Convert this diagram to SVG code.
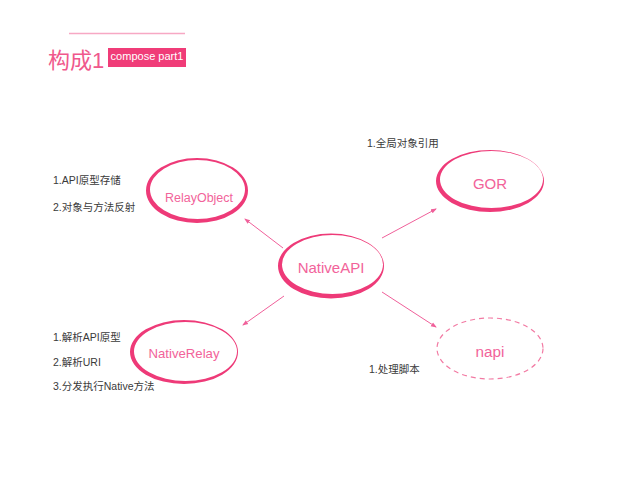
<svg xmlns="http://www.w3.org/2000/svg" width="640" height="480" viewBox="0 0 640 480">
<defs>
<style>
.ring{fill:#ee3a78;fill-rule:evenodd;}
.dash{fill:none;stroke:#f27aa3;stroke-width:1.2;stroke-dasharray:5,4;}
.nt{font-family:"Liberation Sans",Arial,sans-serif;fill:#f2639a;text-anchor:middle;}
.lb{font-family:"Liberation Sans","Noto Sans CJK SC",sans-serif;font-size:10.5px;fill:#3a3a3a;}
.con{stroke:#f0609a;stroke-width:1;fill:none;marker-end:url(#ah);}
</style>
<marker id="ah" viewBox="0 0 6 6" refX="5" refY="3" markerWidth="6" markerHeight="6" markerUnits="userSpaceOnUse" orient="auto">
<path d="M0,0.8 L6,3 L0,5.2 Z" fill="#f0609a"/>
</marker>
</defs>
<rect width="640" height="480" fill="#fff"/>
<g id="title">
<line x1="69" y1="33.5" x2="185" y2="33.5" stroke="#f7a8c4" stroke-width="1.5"/>
<text x="48" y="68" font-family="Liberation Sans,'Noto Sans CJK SC',sans-serif" font-size="22" fill="#f0588c">构成1</text>
<rect x="108" y="48" width="78" height="19" fill="#f03c78"/>
<text x="147" y="60" font-family="Liberation Sans,Arial,sans-serif" font-size="11" fill="#fff" text-anchor="middle">compose part1</text>
</g>
<g id="connectors">
<line class="con" x1="283" y1="248" x2="245" y2="219"/>
<line class="con" x1="382" y1="238" x2="436" y2="209"/>
<line class="con" x1="284" y1="296" x2="243" y2="325"/>
<line class="con" x1="382" y1="292" x2="436" y2="327"/>
</g>
<g id="RelayObject">
<path class="ring" d="M146,190.5 a51,32.5 0 1,0 102,0 a51,32.5 0 1,0 -102,0 Z M150,189.5 a47.5,29.5 0 1,0 95,0 a47.5,29.5 0 1,0 -95,0 Z"/>
<text class="nt" x="199" y="202" font-size="12.5">RelayObject</text>
<text class="lb" x="53" y="184">1.API原型存储</text>
<text class="lb" x="53" y="211">2.对象与方法反射</text>
</g>
<g id="NativeAPI">
<path class="ring" d="M278,266 a53,32.5 0 1,0 106,0 a53,32.5 0 1,0 -106,0 Z M282,264.5 a50.5,29.5 0 1,0 101,0 a50.5,29.5 0 1,0 -101,0 Z"/>
<text class="nt" x="331" y="273" font-size="15">NativeAPI</text>
</g>
<g id="GOR">
<path class="ring" d="M436,181 a54,31 0 1,0 108,0 a54,31 0 1,0 -108,0 Z M440,179.5 a51.5,28.5 0 1,0 103,0 a51.5,28.5 0 1,0 -103,0 Z"/>
<text class="nt" x="490" y="189" font-size="15">GOR</text>
<text class="lb" x="367" y="147">1.全局对象引用</text>
</g>
<g id="NativeRelay">
<path class="ring" d="M130,352 a54,32 0 1,0 108,0 a54,32 0 1,0 -108,0 Z M134,351.5 a51.5,29.5 0 1,0 103,0 a51.5,29.5 0 1,0 -103,0 Z"/>
<text class="nt" x="184" y="358" font-size="13.2">NativeRelay</text>
<text class="lb" x="53" y="341">1.解析API原型</text>
<text class="lb" x="53" y="366">2.解析URI</text>
<text class="lb" x="53" y="390">3.分发执行Native方法</text>
</g>
<g id="napi">
<ellipse class="dash" cx="490" cy="348.5" rx="53" ry="30.5"/>
<text class="nt" x="490" y="357" font-size="15.3">napi</text>
<text class="lb" x="369" y="373">1.处理脚本</text>
</g>
</svg>
